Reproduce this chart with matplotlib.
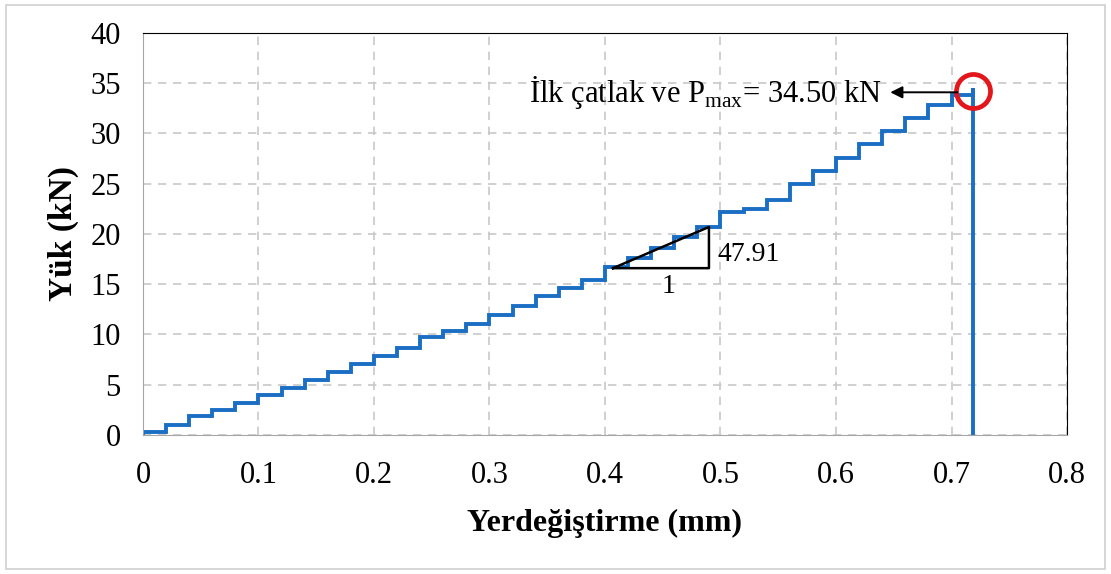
import numpy as np
import matplotlib
matplotlib.use("Agg")
import matplotlib.pyplot as plt
from matplotlib.patches import Rectangle

plt.rcParams['font.family'] = ['Liberation Serif', 'DejaVu Serif']
plt.rcParams['mathtext.fontset'] = 'custom'
plt.rcParams['mathtext.rm'] = 'Liberation Serif'

# step edges (mm) and load level on each step (kN)
step_x = [0.0, 0.02, 0.04, 0.06, 0.08, 0.10, 0.12, 0.14, 0.16, 0.18, 0.20,
          0.22, 0.24, 0.26, 0.28, 0.30, 0.32, 0.34, 0.36, 0.38, 0.40,
          0.42, 0.44, 0.46, 0.48, 0.50, 0.52, 0.54, 0.56, 0.58, 0.60,
          0.62, 0.64, 0.66, 0.68, 0.70]
step_load = [0.3, 1.0, 1.9, 2.5, 3.2, 4.0, 4.7, 5.5, 6.3, 7.1, 7.9,
             8.7, 9.7, 10.35, 11.0, 11.9, 12.8, 13.8, 14.6, 15.4, 16.7,
             17.6, 18.6, 19.7, 20.7, 22.2, 22.5, 23.4, 25.0, 26.3, 27.6,
             29.0, 30.2, 31.5, 32.8, 33.8]
x_fail = 0.719
p_max = 34.5

# build the staircase path
xs, ys = [0.0], [0.0]
for i in range(len(step_x)):
    x0 = step_x[i]
    x1 = step_x[i + 1] if i + 1 < len(step_x) else x_fail
    xs += [x0, x1]
    ys += [step_load[i], step_load[i]]
xs += [x_fail, x_fail]
ys += [p_max, 0.0]

fig = plt.figure(figsize=(11.11, 5.74), dpi=100)
ax = fig.add_axes([0.1287, 0.2422, 0.8317, 0.7003])

ax.plot(xs, ys, color='#1a6ec3', lw=2.8, solid_joinstyle='miter')

ax.set_xlim(0, 0.8)
ax.set_ylim(0, 40)
ax.set_xticks(np.arange(0, 0.81, 0.1))
ax.set_xticklabels(['0', '0.1', '0.2', '0.3', '0.4', '0.5', '0.6', '0.7', '0.8'])
ax.set_yticks(np.arange(0, 41, 5))
ax.tick_params(length=0, labelsize=22)
ax.tick_params(axis='x', pad=19)
ax.tick_params(axis='y', pad=16)
ax.grid(True, color='#c8c8c8', linestyle=(0, (5, 4)), lw=1.2)
ax.set_axisbelow(True)
for s in ['left', 'bottom']:
    ax.spines[s].set_color('#a6a6a6')
for s in ['top', 'right']:
    ax.spines[s].set_color('black')

ax.set_xlabel('Yerdeğiştirme (mm)', fontsize=23, fontweight='bold', labelpad=13)
ax.set_ylabel('Yük (kN)', fontsize=24, fontweight='bold', labelpad=8)

# slope triangle
tri_x = [0.407, 0.490, 0.490, 0.407]
tri_y = [16.6, 20.7, 16.6, 16.6]
ax.plot(tri_x, tri_y, color='black', lw=1.8)
ax.text(0.497, 18.0, '47.91', fontsize=20, ha='left', va='center')
ax.text(0.455, 14.8, '1', fontsize=20, ha='center', va='center')

# peak marker and annotation
ax.plot([x_fail], [p_max - 0.3], 'o', ms=24.5, mfc='none', mec='#e3161b', mew=3.4)
ax.annotate('', xy=(0.647, 34.1), xytext=(0.705, 34.1),
            arrowprops=dict(arrowstyle='-|>', color='black', lw=1.4,
                            mutation_scale=18, shrinkA=0, shrinkB=0))
ax.text(0.640, 34.1, 'İlk çatlak ve P$_{\\mathrm{max}}$= 34.50 kN', fontsize=22,
        ha='right', va='center')

fig.patches.append(Rectangle((0.005, 0.009), 0.99, 0.982, transform=fig.transFigure,
                             fill=False, edgecolor='#d0d0d0', lw=1.2))

fig.savefig('out.png', dpi=100)
